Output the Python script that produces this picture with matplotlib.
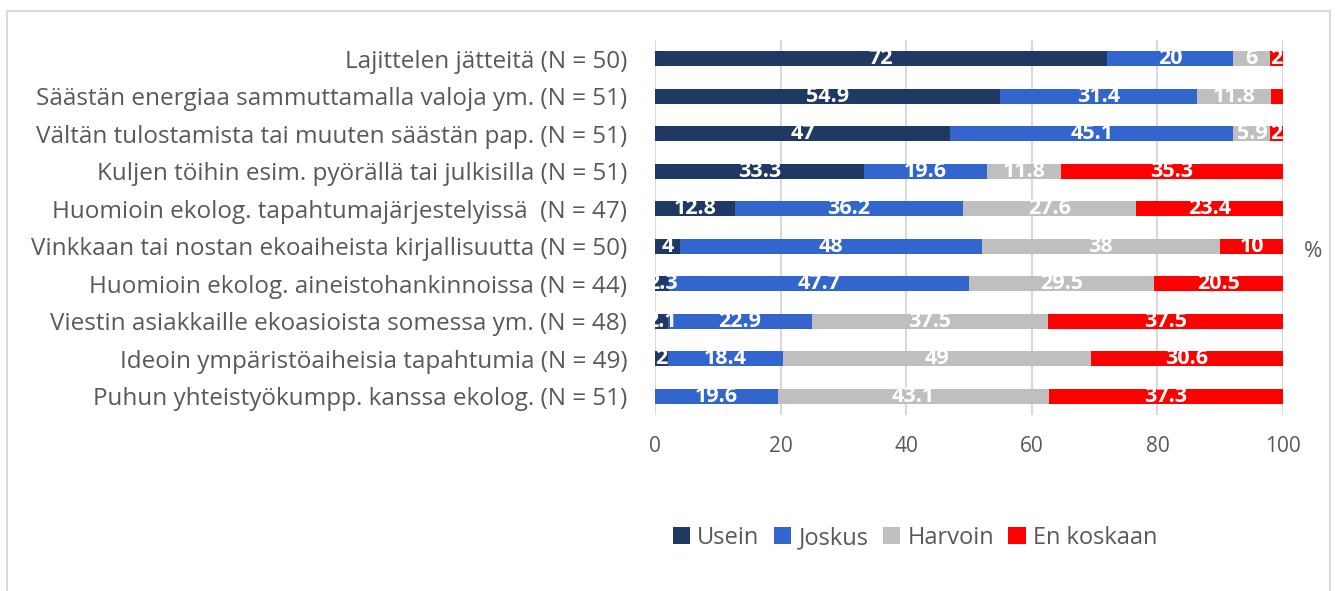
import matplotlib
matplotlib.use('Agg')
import numpy as np
from matplotlib import pyplot as plt
from matplotlib.patches import Rectangle

plt.rcParams['font.family'] = ['Open Sans', 'DejaVu Sans']

categories = [
    "Lajittelen jätteitä (N = 50)",
    "Säästän energiaa sammuttamalla valoja ym. (N = 51)",
    "Vältän tulostamista tai muuten säästän pap. (N = 51)",
    "Kuljen töihin esim. pyörällä tai julkisilla (N = 51)",
    "Huomioin ekolog. tapahtumajärjestelyissä  (N = 47)",
    "Vinkkaan tai nostan ekoaiheista kirjallisuutta (N = 50)",
    "Huomioin ekolog. aineistohankinnoissa (N = 44)",
    "Viestin asiakkaille ekoasioista somessa ym. (N = 48)",
    "Ideoin ympäristöaiheisia tapahtumia (N = 49)",
    "Puhun yhteistyökumpp. kanssa ekolog. (N = 51)",
]
series = ["Usein", "Joskus", "Harvoin", "En koskaan"]
usein = [72, 54.9, 47, 33.3, 12.8, 4, 2.3, 2.1, 2, 0]
joskus = [20, 31.4, 45.1, 19.6, 36.2, 48, 47.7, 22.9, 18.4, 19.6]
harvoin = [6, 11.8, 5.9, 11.8, 27.6, 38, 29.5, 37.5, 49, 43.1]
en_koskaan = [2, 1.9, 2, 35.3, 23.4, 10, 20.5, 37.5, 30.6, 37.3]
# labels Excel left out (row, series)
hidden = [(1, 3)]

colors = ["#203864", "#3366CC", "#BFBFBF", "#FF0000"]
gray = "#595959"

fig = plt.figure(figsize=(13.36, 5.91), dpi=100)
ax = fig.add_axes([655/1336, 1-415/591, 628/1336, 375/591])

y = np.arange(len(categories))
left = np.zeros(len(categories))
for j, vals in enumerate([usein, joskus, harvoin, en_koskaan]):
    vals = np.array(vals)
    ax.barh(y, vals, left=left, height=0.4, color=colors[j], label=series[j], zorder=3)
    for i, v in enumerate(vals):
        if v > 0 and (i, j) not in hidden:
            ax.text(left[i] + v/2, y[i], "%g" % v, ha='center', va='center',
                    color='white', fontsize=15.5, fontweight='bold', zorder=4)
    left = left + vals

ax.set_xlim(0, 100)
ax.set_ylim(len(categories) - 0.5, -0.5)
ax.set_xticks([0, 20, 40, 60, 80, 100])
ax.set_yticks(y)
ax.set_yticklabels(categories)
ax.tick_params(axis='y', length=0, pad=20, labelsize=17.5, labelcolor=gray)
ax.tick_params(axis='x', length=0, pad=15, labelsize=15, labelcolor=gray)
ax.grid(axis='x', color='#D9D9D9', linewidth=1.5, zorder=0)
for s in ax.spines.values():
    s.set_visible(False)

fig.text(1313/1336, 1-252/591, "%", ha='center', va='center', fontsize=16, color=gray)

fig.legend(loc='center', bbox_to_anchor=(915/1336, 1-538/591), ncol=4, frameon=False,
           fontsize=17, labelcolor=gray, handlelength=0.75, handleheight=0.75,
           handletextpad=0.3, columnspacing=0.6)

fig.patches.append(Rectangle((7/1336, -0.1), 1323/1336, 1.1 - 11/591, transform=fig.transFigure,
                             fill=False, edgecolor='#D9D9D9', linewidth=1.5))

fig.savefig('out.png', dpi=100, facecolor='white')
